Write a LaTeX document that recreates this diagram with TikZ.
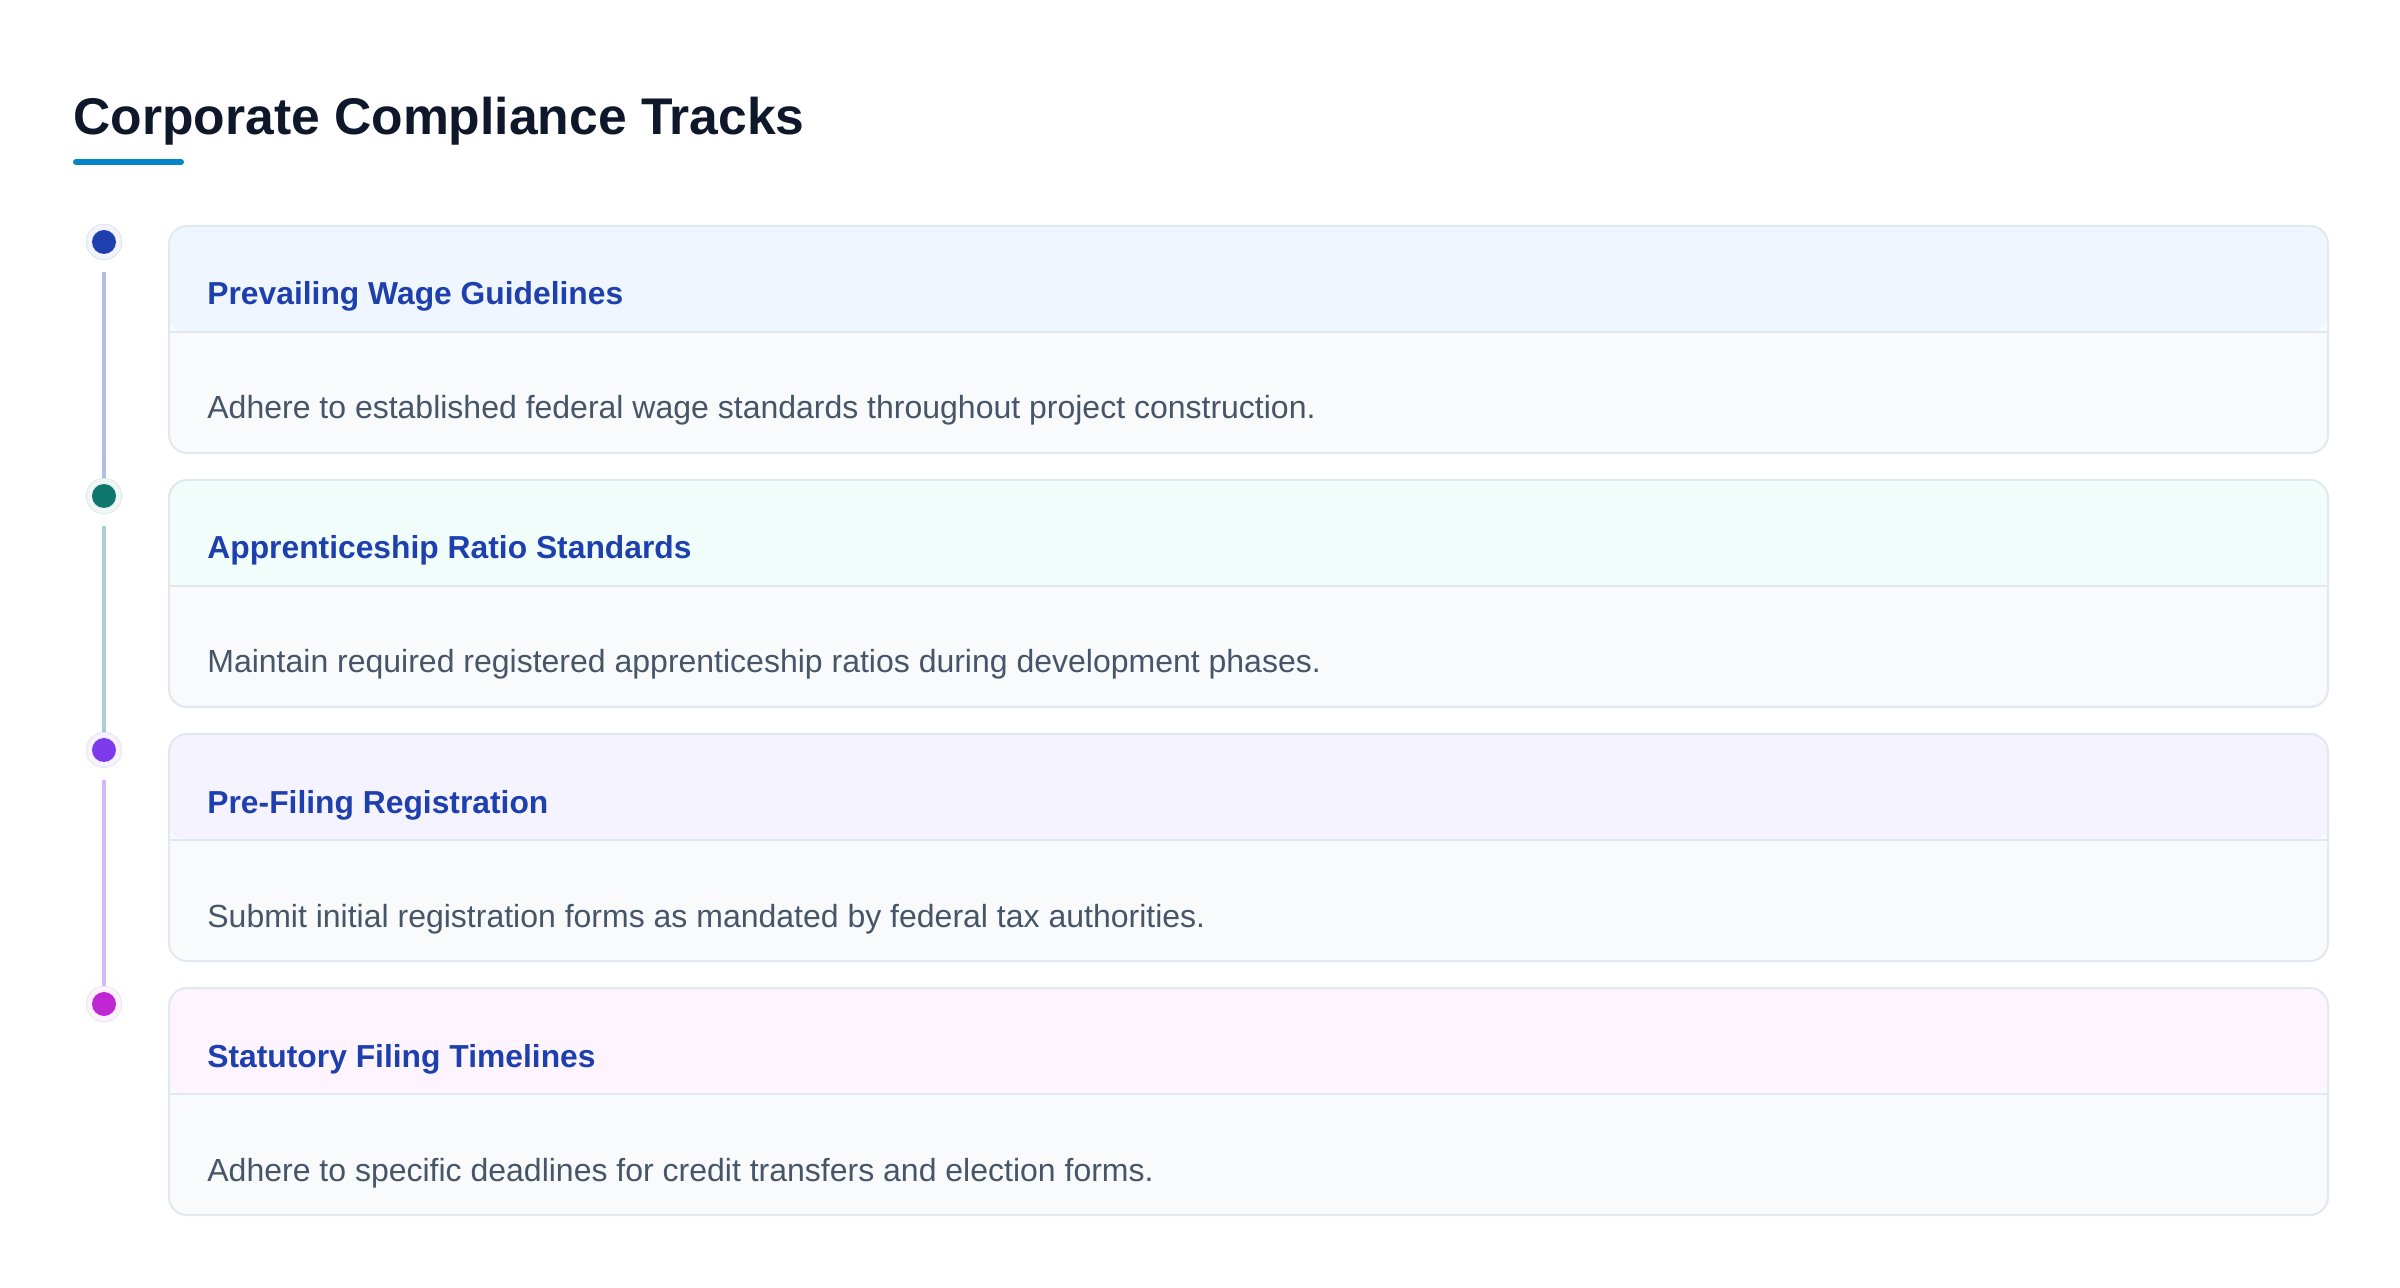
\documentclass[tikz,border=0pt]{standalone}
\usepackage{fontspec}
\setmainfont{Liberation Sans}
\usetikzlibrary{positioning}

\definecolor{titleink}{HTML}{0F172A}
\definecolor{accent}{HTML}{0284C7}
\definecolor{headink}{HTML}{1E40AF}
\definecolor{bodyink}{HTML}{475569}
\definecolor{cardline}{HTML}{E2E8F0}
\definecolor{cardbody}{HTML}{F8FAFC}
\definecolor{dotA}{HTML}{1E40AF}
\definecolor{dotB}{HTML}{0F766E}
\definecolor{dotC}{HTML}{7C3AED}
\definecolor{dotD}{HTML}{C026D3}
\definecolor{hdA}{HTML}{EFF6FF}
\definecolor{hdB}{HTML}{F0FDFA}
\definecolor{hdC}{HTML}{F5F3FF}
\definecolor{hdD}{HTML}{FDF4FF}

\tikzset{
    card/.style={draw=cardline, line width=1pt, rounded corners=9pt, fill=cardbody,
        minimum width=1079.5pt, minimum height=113.5pt, anchor=north west, inner sep=0pt,
        path picture={
            \fill[#1] (path picture bounding box.north west) rectangle ([yshift=-53pt]path picture bounding box.north east);
            \draw[cardline, line width=1pt] ([yshift=-53pt]path picture bounding box.north west) -- ([yshift=-53pt]path picture bounding box.north east);
        }},
    ring/.style={circle, fill=#1!6, draw=#1!14, line width=0.5pt, minimum size=17.7pt, inner sep=0pt},
    dot/.style={circle, fill=#1, minimum size=12pt, inner sep=0pt},
    headtext/.style={anchor=base west, font=\bfseries\fontsize{15.9}{19}\selectfont, text=headink, inner sep=0pt},
    bodytext/.style={anchor=base west, font=\fontsize{16}{19}\selectfont, text=bodyink, inner sep=0pt},
    track/.style={draw=#1!35, line width=2pt},
    titlebar/.style={draw=accent, line width=3pt, line cap=round},
}

\begin{document}
\begin{tikzpicture}[x=0.5pt, y=-0.5pt]
    \fill[white] (0,0) rectangle (2400,1288);
    \useasboundingbox (0,0) rectangle (2400,1288);

    % heading
    \node[anchor=base west, font=\bfseries\fontsize{25.8}{31}\selectfont, text=titleink, inner sep=0pt] (title) at (73,135) {Corporate Compliance Tracks};
    \coordinate (barL) at (76,162);
    \coordinate (barR) at (181,162);
    \draw[titlebar] (barL) -- (barR);

    % cards and markers
    \foreach \i/\hd/\dc/\head/\body in {
        1/hdA/dotA/{Prevailing Wage Guidelines}/{Adhere to established federal wage standards throughout project construction.},
        2/hdB/dotB/{Apprenticeship Ratio Standards}/{Maintain required registered apprenticeship ratios during development phases.},
        3/hdC/dotC/{Pre-Filing Registration}/{Submit initial registration forms as mandated by federal tax authorities.},
        4/hdD/dotD/{Statutory Filing Timelines}/{Adhere to specific deadlines for credit transfers and election forms.}} {
        \node[card=\hd] (card\i) at (168,{225+254*(\i-1)}) {};
        \node[headtext] (head\i) at ([xshift=19.5pt, yshift=-40pt]card\i.north west) {\head};
        \node[bodytext] (body\i) at ([xshift=19.5pt, yshift=-97pt]card\i.north west) {\body};
        \node[ring=\dc] (ring\i) at (104,{242+254*(\i-1)}) {};
        \node[dot=\dc] (dot\i) at (ring\i) {};
    }

    % timeline
    \foreach \i/\j/\dc in {1/2/dotA, 2/3/dotB, 3/4/dotC}
        \draw[track=\dc, shorten <=6pt] (ring\i.south) -- (ring\j.north);
\end{tikzpicture}
\end{document}
